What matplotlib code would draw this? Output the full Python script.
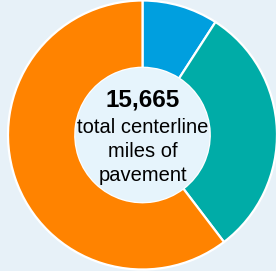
import numpy as np
import matplotlib.pyplot as plt

# Tramos de pavimento (millas, estimadas del gráfico)
segmentos = ['azul', 'verde', 'naranja']
millas = [1430, 4780, 9455]
colores = ['#009FDF', '#00ACA7', '#FF8300']
total = '15,665'
lineas = ['total centerline', 'miles of', 'pavement']

fondo = '#E7F1F8'
centro = '#E6F4FC'

fig = plt.figure(figsize=(2.76, 2.71), dpi=100, facecolor=fondo)
ax = fig.add_axes([0, 0, 1, 1])
ax.set_facecolor(fondo)

cx, cy = 142.5, 271 - 135
R = 134.5

ax.pie(millas, colors=colores, startangle=90, counterclock=False,
       center=(cx, cy), radius=R, frame=True,
       wedgeprops=dict(width=R * 0.5, edgecolor='white', linewidth=1.6))
ax.add_patch(plt.Circle((cx, cy), R * 0.5 - 0.8, color=centro, zorder=3))

ax.text(cx, 271 - 107, total, ha='center', va='baseline', fontsize=17.5,
        fontweight='bold', family='Liberation Sans', zorder=4)
for i, t in enumerate(lineas):
    ax.text(cx, 271 - (133 + 24 * i), t, ha='center', va='baseline',
            fontsize=14.5, family='Liberation Sans', zorder=4)

ax.set_xlim(0, 276)
ax.set_ylim(0, 271)
ax.set_aspect('equal')
ax.axis('off')

fig.savefig('out.png', dpi=100, facecolor=fondo)
